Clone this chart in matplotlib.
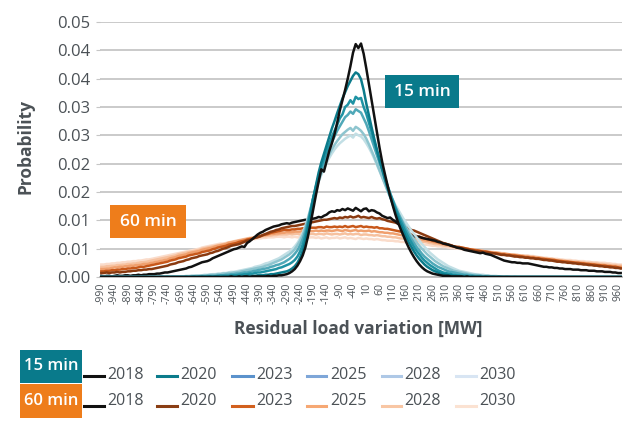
import matplotlib
matplotlib.use("Agg")
import matplotlib.pyplot as plt
from matplotlib.lines import Line2D
from matplotlib.patches import Rectangle

plt.rcParams['font.family'] = ['Open Sans', 'DejaVu Sans']

# categories: residual load variation [MW], -990 .. 970 step 10
x_values = list(range(-990, 980, 10))
years = ["2018", "2020", "2023", "2025", "2028", "2030"]
y_ticks = [0.0, 0.005, 0.01, 0.015, 0.02, 0.025, 0.03, 0.035, 0.04, 0.045]
y_tick_labels = ["0.00", "0.01", "0.01", "0.02", "0.02", "0.03", "0.03", "0.04", "0.04", "0.05"]

# probabilities in units of 1e-4
m15_2018 = [
    0, 0, 0, 0, 0, 0, 0, 0, 0, 0,
    0, 0, 0, 0, 0, 0, 0, 0, 0, 0,
    0, 0, 0, 0, 0, 0, 0, 0, 0, 0,
    0, 0, 0, 0, 0, 0, 0, 0, 0, 0,
    0, 0, 0, 0, 0, 0, 0, 0, 0, 1,
    0, 0, 1, 0, 1, 1, 0, 1, 1, 1,
    1, 1, 1, 2, 1, 2, 2, 3, 3, 4,
    5, 7, 10, 14, 20, 28, 38, 52, 72, 95,
    120, 145, 168, 190, 186, 204, 222, 236, 252, 272,
    294, 312, 330, 350, 372, 396, 411, 404, 412, 394,
    368, 340, 312, 283, 256, 228, 203, 182, 162, 143,
    126, 110, 96, 84, 73, 62, 52, 43, 35, 28,
    22, 17, 13, 10, 8, 6, 5, 4, 3, 2,
    2, 2, 1, 1, 1, 1, 1, 0, 1, 0,
    0, 0, 0, 0, 0, 0, 0, 0, 0, 0,
    0, 0, 0, 0, 0, 0, 0, 0, 0, 0,
    0, 0, 0, 0, 0, 0, 0, 0, 0, 0,
    0, 0, 0, 0, 0, 0, 0, 0, 0, 0,
    0, 0, 0, 0, 0, 0, 0, 0, 0, 0,
    0, 0, 0, 0, 0, 0, 0,
]
m15_2020 = [
    0, 0, 0, 0, 0, 0, 0, 0, 0, 0,
    0, 0, 0, 0, 0, 0, 0, 0, 0, 0,
    0, 0, 0, 0, 0, 0, 0, 0, 0, 0,
    0, 0, 0, 0, 0, 0, 0, 0, 1, 0,
    0, 1, 0, 1, 1, 0, 1, 1, 1, 1,
    1, 1, 1, 2, 1, 2, 2, 2, 2, 3,
    3, 3, 4, 4, 5, 5, 6, 7, 8, 9,
    10, 12, 15, 19, 25, 34, 46, 62, 86, 112,
    140, 162, 184, 202, 217, 232, 247, 262, 275, 289,
    302, 315, 326, 337, 346, 355, 361, 358, 349, 330,
    306, 285, 264, 244, 225, 207, 190, 173, 157, 142,
    128, 115, 103, 91, 80, 70, 61, 53, 45, 38,
    32, 27, 22, 18, 15, 12, 10, 8, 6, 5,
    4, 3, 3, 2, 2, 1, 1, 1, 1, 0,
    1, 0, 0, 0, 0, 0, 0, 0, 0, 0,
    0, 0, 0, 0, 0, 0, 0, 0, 0, 0,
    0, 0, 0, 0, 0, 0, 0, 0, 0, 0,
    0, 0, 0, 0, 0, 0, 0, 0, 0, 0,
    0, 0, 0, 0, 0, 0, 0, 0, 0, 0,
    0, 0, 0, 0, 0, 0, 0,
]
m15_2023 = [
    0, 0, 0, 0, 0, 0, 0, 0, 0, 0,
    0, 0, 0, 0, 0, 0, 0, 0, 0, 0,
    0, 0, 0, 0, 0, 0, 0, 0, 0, 0,
    0, 0, 0, 0, 0, 1, 0, 1, 0, 1,
    1, 1, 1, 1, 1, 2, 2, 2, 2, 3,
    3, 3, 4, 4, 5, 5, 6, 6, 7, 8,
    8, 9, 10, 11, 12, 13, 14, 16, 17, 19,
    21, 23, 26, 30, 36, 45, 57, 73, 94, 118,
    140, 160, 178, 195, 208, 222, 235, 247, 258, 268,
    280, 287, 300, 304, 312, 306, 318, 314, 316, 300,
    288, 272, 256, 239, 222, 206, 191, 176, 161, 147,
    134, 121, 109, 98, 88, 78, 69, 61, 53, 46,
    40, 34, 29, 25, 21, 18, 15, 12, 10, 8,
    7, 6, 5, 4, 3, 3, 2, 2, 2, 1,
    1, 1, 1, 1, 0, 1, 0, 0, 0, 0,
    0, 0, 0, 0, 0, 0, 0, 0, 0, 0,
    0, 0, 0, 0, 0, 0, 0, 0, 0, 0,
    0, 0, 0, 0, 0, 0, 0, 0, 0, 0,
    0, 0, 0, 0, 0, 0, 0, 0, 0, 0,
    0, 0, 0, 0, 0, 0, 0,
]
m15_2025 = [
    0, 0, 0, 0, 0, 0, 0, 0, 0, 0,
    0, 0, 0, 0, 0, 0, 0, 0, 0, 0,
    0, 0, 0, 0, 0, 0, 0, 0, 0, 0,
    0, 0, 1, 0, 1, 1, 1, 1, 1, 1,
    2, 2, 2, 2, 3, 3, 3, 4, 4, 5,
    5, 6, 6, 7, 8, 8, 9, 10, 11, 12,
    13, 14, 15, 16, 18, 19, 21, 22, 24, 26,
    29, 32, 36, 41, 47, 56, 67, 81, 99, 119,
    140, 157, 173, 188, 202, 215, 227, 238, 248, 258,
    266, 274, 282, 286, 292, 288, 296, 293, 290, 280,
    270, 257, 243, 229, 215, 201, 188, 174, 161, 148,
    136, 124, 113, 103, 93, 84, 75, 67, 60, 53,
    47, 41, 36, 32, 28, 24, 21, 18, 16, 14,
    12, 10, 9, 8, 7, 6, 5, 4, 4, 3,
    3, 2, 2, 2, 1, 1, 1, 1, 1, 0,
    1, 0, 0, 0, 0, 0, 0, 0, 0, 0,
    0, 0, 0, 0, 0, 0, 0, 0, 0, 0,
    0, 0, 0, 0, 0, 0, 0, 0, 0, 0,
    0, 0, 0, 0, 0, 0, 0, 0, 0, 0,
    0, 0, 0, 0, 0, 0, 0,
]
m15_2028 = [
    0, 0, 0, 0, 0, 0, 0, 0, 0, 0,
    0, 0, 0, 0, 0, 0, 0, 0, 0, 0,
    0, 0, 0, 1, 0, 1, 0, 1, 1, 1,
    1, 1, 1, 1, 2, 2, 2, 2, 3, 3,
    3, 4, 4, 4, 5, 5, 6, 6, 7, 7,
    8, 8, 9, 10, 11, 12, 13, 14, 15, 16,
    17, 18, 20, 21, 23, 25, 27, 29, 31, 34,
    37, 40, 44, 49, 56, 64, 74, 87, 103, 121,
    140, 155, 170, 183, 195, 206, 216, 225, 233, 240,
    246, 252, 256, 260, 263, 258, 265, 262, 258, 252,
    244, 234, 223, 212, 200, 188, 176, 164, 152, 141,
    132, 122, 113, 104, 96, 88, 80, 73, 67, 61,
    55, 50, 45, 40, 36, 32, 28, 25, 22, 19,
    17, 15, 13, 11, 10, 9, 8, 7, 6, 5,
    4, 4, 3, 3, 2, 2, 2, 1, 1, 1,
    1, 1, 0, 1, 0, 0, 0, 0, 0, 0,
    0, 0, 0, 0, 0, 0, 0, 0, 0, 0,
    0, 0, 0, 0, 0, 0, 0, 0, 0, 0,
    0, 0, 0, 0, 0, 0, 0, 0, 0, 0,
    0, 0, 0, 0, 0, 0, 0,
]
m15_2030 = [
    0, 0, 0, 0, 0, 0, 0, 0, 0, 0,
    0, 0, 0, 0, 0, 0, 0, 0, 0, 0,
    0, 0, 1, 0, 1, 1, 1, 1, 1, 1,
    1, 1, 2, 2, 2, 2, 3, 3, 3, 4,
    4, 4, 5, 5, 6, 6, 7, 7, 8, 9,
    9, 10, 11, 12, 13, 14, 15, 16, 18, 19,
    20, 22, 24, 25, 27, 29, 31, 33, 36, 39,
    42, 45, 49, 54, 60, 68, 78, 90, 105, 122,
    140, 154, 168, 180, 191, 201, 210, 218, 225, 231,
    236, 240, 244, 247, 250, 246, 253, 250, 248, 243,
    236, 228, 219, 209, 198, 187, 176, 165, 154, 144,
    136, 127, 119, 111, 103, 96, 89, 82, 76, 70,
    64, 58, 53, 48, 43, 39, 35, 31, 28, 25,
    22, 19, 17, 15, 13, 11, 10, 9, 8, 7,
    6, 5, 5, 4, 4, 3, 3, 2, 2, 2,
    1, 1, 1, 1, 1, 0, 1, 0, 0, 0,
    0, 0, 0, 0, 0, 0, 0, 0, 0, 0,
    0, 0, 0, 0, 0, 0, 0, 0, 0, 0,
    0, 0, 0, 0, 0, 0, 0, 0, 0, 0,
    0, 0, 0, 0, 0, 0, 0,
]

m60_2018 = [
    2, 1, 2, 2, 1, 2, 3, 2, 2, 3,
    3, 2, 3, 3, 4, 3, 4, 4, 5, 5,
    5, 6, 6, 7, 8, 8, 9, 10, 11, 12,
    13, 14, 15, 17, 18, 20, 22, 24, 26, 27,
    28, 30, 33, 35, 37, 39, 41, 43, 45, 47,
    49, 50, 52, 54, 53, 60, 63, 67, 71, 75,
    78, 80, 83, 85, 87, 89, 90, 91, 93, 94,
    95, 94, 96, 97, 98, 99, 100, 101, 100, 102,
    103, 104, 106, 105, 108, 110, 114, 116, 115, 118,
    117, 120, 118, 121, 119, 117, 122, 119, 116, 120,
    121, 116, 118, 117, 114, 112, 108, 106, 104, 105,
    101, 98, 94, 89, 84, 79, 76, 73, 72, 71,
    71, 69, 68, 67, 66, 65, 64, 62, 61, 59,
    58, 57, 55, 54, 52, 51, 50, 48, 47, 46,
    45, 44, 43, 42, 43, 41, 40, 39, 37, 35,
    33, 31, 29, 28, 27, 26, 26, 25, 25, 24,
    24, 24, 23, 22, 21, 20, 19, 18, 18, 17,
    17, 16, 16, 15, 15, 14, 14, 14, 13, 13,
    13, 12, 12, 12, 11, 11, 11, 10, 10, 10,
    9, 9, 9, 8, 8, 7, 7,
]
m60_2020 = [
    7, 7, 8, 7, 8, 8, 9, 8, 9, 9,
    10, 10, 11, 11, 12, 12, 13, 13, 14, 14,
    15, 16, 17, 18, 19, 20, 22, 23, 24, 26,
    27, 28, 30, 31, 33, 34, 35, 37, 38, 39,
    40, 42, 43, 45, 46, 48, 50, 51, 53, 55,
    56, 57, 58, 60, 62, 64, 65, 67, 69, 70,
    72, 74, 76, 78, 80, 81, 83, 84, 86, 87,
    88, 89, 90, 90, 91, 92, 93, 94, 95, 96,
    97, 98, 99, 100, 101, 101, 102, 103, 104, 103,
    105, 104, 106, 105, 107, 105, 106, 108, 105, 106,
    105, 104, 106, 104, 103, 104, 102, 101, 99, 98,
    97, 96, 94, 92, 90, 88, 86, 83, 82, 80,
    78, 76, 74, 72, 70, 68, 66, 64, 62, 60,
    59, 57, 56, 54, 53, 52, 51, 50, 49, 48,
    47, 46, 45, 45, 44, 43, 43, 42, 42, 41,
    40, 39, 39, 38, 38, 37, 36, 36, 35, 35,
    34, 34, 33, 33, 32, 32, 31, 30, 30, 29,
    29, 28, 27, 27, 26, 26, 25, 25, 24, 24,
    23, 23, 22, 22, 21, 21, 20, 20, 19, 19,
    18, 18, 17, 17, 16, 16, 15,
]
m60_2023 = [
    10, 10, 11, 11, 12, 12, 13, 13, 14, 14,
    15, 15, 16, 16, 17, 18, 18, 19, 20, 21,
    22, 23, 24, 25, 26, 27, 29, 30, 31, 33,
    34, 35, 36, 38, 39, 40, 41, 42, 44, 45,
    46, 47, 49, 50, 52, 53, 54, 55, 57, 58,
    59, 60, 62, 63, 64, 66, 67, 68, 70, 71,
    72, 74, 75, 76, 78, 79, 80, 81, 82, 83,
    83, 83, 84, 84, 85, 85, 86, 86, 86, 87,
    87, 87, 88, 88, 87, 89, 88, 88, 89, 88,
    89, 88, 90, 88, 89, 90, 88, 89, 90, 88,
    89, 88, 88, 87, 88, 86, 86, 85, 85, 84,
    83, 82, 81, 80, 79, 78, 76, 75, 74, 72,
    71, 70, 68, 67, 66, 64, 63, 62, 61, 59,
    58, 57, 56, 54, 53, 53, 52, 51, 50, 49,
    48, 47, 47, 46, 45, 45, 44, 43, 42, 42,
    41, 40, 40, 39, 39, 38, 38, 37, 37, 36,
    35, 35, 34, 34, 33, 33, 32, 32, 31, 31,
    30, 30, 29, 28, 28, 27, 27, 26, 26, 25,
    25, 24, 24, 23, 23, 22, 22, 21, 21, 20,
    20, 19, 19, 18, 18, 17, 16,
]
m60_2025 = [
    14, 14, 15, 15, 16, 17, 17, 18, 18, 19,
    19, 20, 20, 21, 21, 22, 23, 23, 24, 25,
    26, 27, 28, 29, 30, 31, 33, 34, 35, 37,
    38, 39, 40, 42, 43, 44, 45, 46, 48, 49,
    50, 51, 52, 54, 55, 56, 57, 58, 60, 61,
    62, 63, 64, 65, 66, 67, 68, 69, 70, 71,
    72, 73, 74, 75, 76, 76, 77, 77, 78, 78,
    79, 79, 79, 80, 80, 80, 81, 80, 81, 81,
    81, 82, 81, 82, 81, 82, 82, 81, 82, 83,
    82, 81, 83, 82, 81, 82, 83, 81, 82, 81,
    81, 82, 80, 81, 80, 79, 79, 78, 78, 77,
    77, 76, 75, 74, 73, 72, 71, 70, 69, 68,
    67, 66, 65, 64, 63, 62, 61, 60, 59, 58,
    57, 56, 55, 54, 53, 53, 52, 51, 50, 49,
    49, 48, 47, 46, 46, 45, 44, 44, 43, 43,
    42, 41, 41, 40, 40, 39, 39, 38, 37, 37,
    36, 36, 35, 35, 34, 34, 33, 32, 32, 31,
    31, 30, 29, 29, 28, 28, 27, 27, 26, 26,
    25, 25, 24, 24, 23, 23, 22, 22, 21, 21,
    21, 20, 20, 19, 19, 18, 18,
]
m60_2028 = [
    18, 18, 19, 19, 20, 20, 21, 21, 22, 22,
    23, 23, 24, 24, 25, 26, 26, 27, 28, 29,
    30, 31, 32, 33, 34, 35, 36, 37, 38, 40,
    41, 42, 43, 44, 45, 46, 47, 48, 50, 51,
    52, 53, 54, 55, 56, 57, 58, 59, 61, 62,
    63, 64, 65, 66, 67, 68, 69, 69, 70, 71,
    71, 72, 72, 73, 73, 74, 74, 75, 75, 75,
    75, 76, 75, 76, 76, 75, 76, 76, 75, 76,
    76, 75, 76, 76, 75, 77, 76, 75, 76, 76,
    75, 76, 77, 75, 76, 75, 76, 76, 74, 75,
    75, 74, 74, 73, 74, 73, 72, 72, 71, 71,
    70, 70, 69, 68, 68, 67, 66, 65, 65, 64,
    63, 62, 62, 61, 60, 59, 58, 58, 57, 56,
    55, 55, 54, 53, 53, 52, 51, 51, 50, 49,
    49, 48, 47, 47, 46, 45, 45, 44, 44, 43,
    43, 42, 42, 41, 40, 40, 39, 39, 38, 38,
    37, 37, 36, 36, 35, 35, 34, 33, 33, 32,
    32, 31, 30, 30, 29, 29, 28, 28, 27, 27,
    27, 26, 26, 25, 25, 25, 24, 24, 23, 23,
    22, 22, 21, 21, 21, 20, 20,
]
m60_2030 = [
    22, 22, 23, 23, 24, 24, 25, 25, 26, 26,
    27, 27, 28, 28, 29, 29, 30, 31, 31, 32,
    33, 34, 35, 36, 37, 38, 39, 40, 41, 42,
    43, 44, 45, 46, 47, 48, 49, 50, 52, 53,
    54, 55, 56, 57, 58, 59, 59, 60, 61, 61,
    62, 63, 64, 64, 65, 66, 66, 67, 67, 68,
    68, 69, 69, 70, 70, 70, 71, 71, 71, 70,
    71, 71, 70, 71, 70, 70, 71, 70, 69, 70,
    70, 69, 70, 68, 69, 70, 68, 69, 69, 70,
    68, 69, 70, 68, 69, 68, 67, 69, 68, 67,
    68, 67, 67, 66, 67, 66, 65, 65, 64, 64,
    64, 63, 63, 62, 62, 61, 61, 60, 60, 59,
    58, 58, 57, 57, 56, 55, 55, 54, 54, 53,
    53, 52, 51, 51, 50, 50, 49, 48, 48, 47,
    47, 46, 46, 45, 45, 44, 44, 43, 43, 42,
    42, 42, 41, 41, 40, 40, 39, 39, 38, 38,
    38, 38, 37, 37, 36, 35, 35, 34, 34, 33,
    33, 32, 32, 31, 31, 30, 30, 30, 29, 29,
    28, 28, 28, 27, 27, 26, 26, 26, 25, 25,
    25, 24, 24, 23, 23, 22, 22,
]

series_15 = [m15_2018, m15_2020, m15_2023, m15_2025, m15_2028, m15_2030]
series_60 = [m60_2018, m60_2020, m60_2023, m60_2025, m60_2028, m60_2030]

# line colours in the plot and in the legend
line_col_15 = ["#111111", "#0b7b8b", "#1f93a4", "#4fa8b8", "#8ec5cf", "#c2dfe5"]
leg_col_15 = ["#111111", "#0b7b8b", "#5b92cc", "#7ea6d8", "#aec8e6", "#d8e5f3"]
line_col_60 = ["#111111", "#8a3a10", "#c8581a", "#f0a06e", "#f6c19f", "#fadccb"]
leg_col_60 = ["#111111", "#8a3e14", "#d2601e", "#f6a874", "#f8c6a4", "#fbe2d2"]

TEAL = "#097a8b"
ORANGE = "#ee7d1b"
TEXT = "#4b5156"
GRID = "#c6c6c6"

W, H = 624, 434
fig = plt.figure(figsize=(W / 100, H / 100), dpi=100)
ax = fig.add_axes([100 / W, 1 - 277 / H, 522 / W, 255 / H])

idx = list(range(len(x_values)))
lw = 1.8
for vals, col in reversed(list(zip(series_60, line_col_60))):
    ax.plot(idx, [v / 10000 for v in vals], color=col, lw=lw, solid_joinstyle="round", zorder=2)
for vals, col in reversed(list(zip(series_15, line_col_15))):
    ax.plot(idx, [v / 10000 for v in vals], color=col, lw=lw, solid_joinstyle="round", zorder=3)

ax.set_xlim(-0.5, len(x_values) - 0.5)
ax.set_ylim(0, 0.045)
ax.set_yticks(y_ticks)
ax.set_yticklabels(y_tick_labels)
ax.set_xticks(idx[::5])
ax.set_xticklabels([str(v) for v in x_values[::5]], rotation=90)
ax.tick_params(axis="y", length=3, color=GRID, labelsize=12, labelcolor=TEXT, pad=4)
ax.tick_params(axis="x", length=0, labelsize=7.6, labelcolor=TEXT, pad=4)
ax.grid(axis="y", color=GRID, lw=1.3, zorder=0)
ax.set_axisbelow(True)
for s in ["left", "right", "top"]:
    ax.spines[s].set_visible(False)
ax.spines["bottom"].set_color("#b8b8b8")
ax.spines["bottom"].set_linewidth(1.3)

fig.text(25 / W, 1 - 146 / H, "Probability", rotation=90, ha="center", va="center",
         fontsize=12.5, fontweight="bold", color=TEXT)
fig.text(358 / W, 1 - 329 / H, "Residual load variation [MW]", ha="center", va="center",
         fontsize=12.5, fontweight="bold", color=TEXT)


def box(x0, y0, x1, y1, color, label, fs=12.5):
    fig.add_artist(Rectangle((x0 / W, 1 - y1 / H), (x1 - x0) / W, (y1 - y0) / H,
                             transform=fig.transFigure, facecolor=color, edgecolor="none"))
    fig.text((x0 + x1) / 2 / W, 1 - (y0 + y1) / 2 / H, label, ha="center", va="center",
             color="white", fontsize=fs, fontweight="semibold")


box(385, 75, 459, 108, TEAL, "15 min")
box(110, 205, 186, 238, ORANGE, "60 min")

# legend
box(20, 350, 82, 383, TEAL, "15 min", fs=12)
box(20, 384, 82, 418, ORANGE, "60 min", fs=12)
handle_x = [(84, 104), (157, 177), (232, 253), (307, 326), (382, 401), (456, 476)]
text_x = [107, 180, 256, 330, 404, 479]
for row, (cols, hy, ty) in enumerate([(leg_col_15, 376, 375), (leg_col_60, 406, 401)]):
    for k, yr in enumerate(years):
        hx0, hx1 = handle_x[k]
        fig.add_artist(Line2D([hx0 / W, hx1 / W], [1 - hy / H, 1 - hy / H], transform=fig.transFigure,
                              color=cols[k], lw=2.2))
        fig.text(text_x[k] / W, 1 - ty / H, yr, ha="left", va="center", fontsize=11.5, color=TEXT)

fig.savefig("out.png", dpi=100)
